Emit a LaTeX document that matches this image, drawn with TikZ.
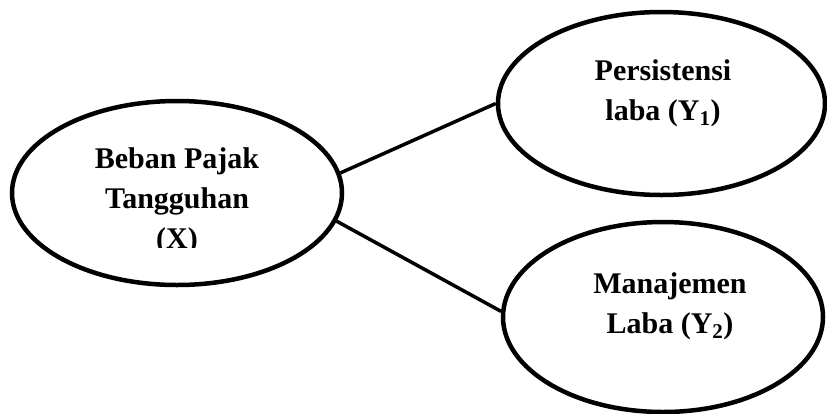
\documentclass[tikz,border=0pt]{standalone}
\usepackage{fontspec}
\setmainfont{Liberation Serif}
\usetikzlibrary{shapes.geometric}
\tikzset{
  oval/.style={draw=black, line width=4.5pt, ellipse, inner sep=0pt, minimum width=#1},
  link/.style={draw=black, line width=3.5pt},
  lbl/.style={font=\fontsize{30}{40}\selectfont\bfseries, inner sep=0pt, anchor=base}
}
\begin{document}
\begin{tikzpicture}[x=1pt,y=-1pt]
\useasboundingbox (0,0) rectangle (827,413);
\node[oval=330pt, minimum height=184pt] (L) at (177,193) {};
\node[oval=327pt, minimum height=183pt] (T) at (661.5,103.5) {};
\node[oval=320pt, minimum height=190pt] (B) at (663,317) {};
\draw[link] (L.7) -- (T.180.5);
\draw[link] (L.-10.4) -- (B.178.6);
\begin{scope}
\clip (0,0) rectangle (827,247);
\node[lbl] (l1) at (177,168) {Beban Pajak};
\node[lbl] (l2) at (177,208) {Tangguhan};
\node[lbl] (l3) at (177,248) {(X)};
\end{scope}
\node[lbl] (t1) at (663,80) {Persistensi};
\node[lbl] (t2) at (663,120) {laba (Y\textsubscript{1})};
\node[lbl] (b1) at (670,293) {Manajemen};
\node[lbl] (b2) at (670,333) {Laba (Y\textsubscript{2})};
\end{tikzpicture}
\end{document}
